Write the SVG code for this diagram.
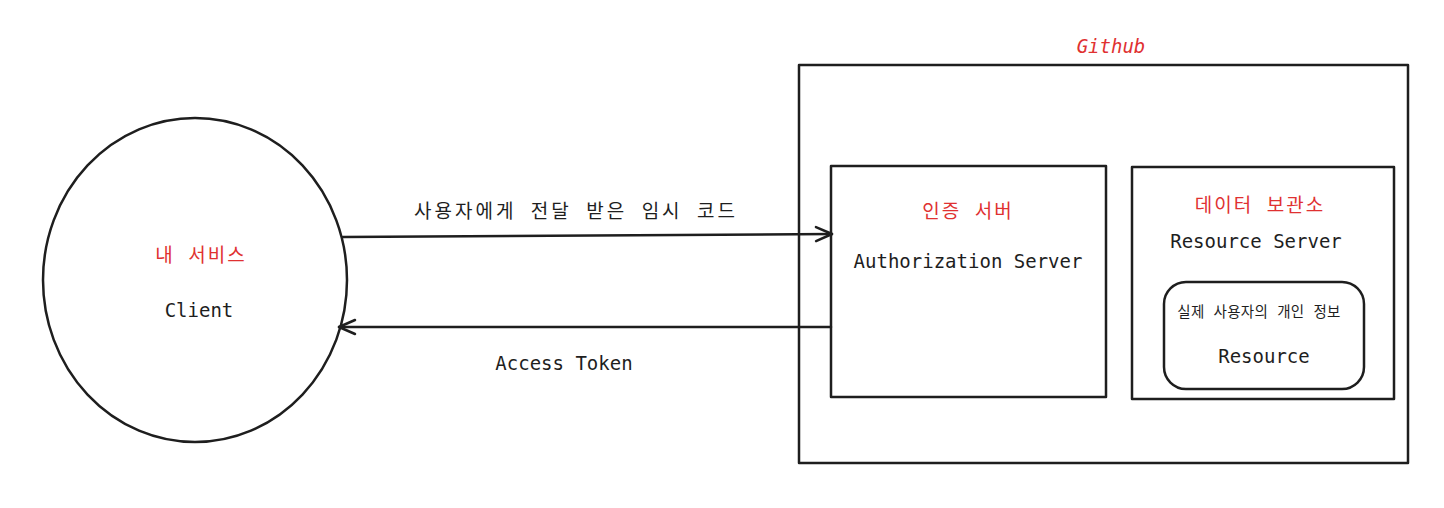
<svg xmlns="http://www.w3.org/2000/svg" width="1444" height="508" viewBox="0 0 1444 508">
<defs>
<style>
.s{fill:none;stroke:#1e1e1e;stroke-width:2.5;stroke-linecap:round;stroke-linejoin:round}
.t{font-family:"DejaVu Sans Mono","Liberation Mono","Noto Sans CJK KR",monospace;font-size:19px;fill:#1e1e1e;text-anchor:middle;dominant-baseline:central}
.k{letter-spacing:2px}
.r{fill:#e03131}
.sm{font-size:14.5px;letter-spacing:0.3px}
</style>
<marker id="ah" viewBox="0 0 20 20" refX="18" refY="10" markerWidth="20" markerHeight="20" markerUnits="userSpaceOnUse" orient="auto">
<path d="M2 3 L18 10 L2 17" fill="none" stroke="#1e1e1e" stroke-width="2.5" stroke-linecap="round" stroke-linejoin="round"/>
</marker>
</defs>
<rect width="1444" height="508" fill="#ffffff"/>
<g id="client">
<ellipse class="s" cx="195" cy="280" rx="152" ry="162"/>
<text class="t k r" x="201" y="255">내 서비스</text>
<text class="t" x="199" y="310">Client</text>
</g>
<g id="github">
<rect class="s" x="799" y="65" width="609" height="398"/>
<text class="t r" x="1111" y="46" font-style="italic">Github</text>
</g>
<g id="auth-server">
<rect class="s" x="831" y="166" width="275" height="231"/>
<text class="t k r" x="968" y="211">인증 서버</text>
<text class="t" x="968" y="261">Authorization Server</text>
</g>
<g id="resource-server">
<rect class="s" x="1132" y="167" width="262" height="232"/>
<text class="t k r" x="1260" y="205">데이터 보관소</text>
<text class="t" x="1256" y="241">Resource Server</text>
</g>
<g id="resource">
<rect class="s" x="1164" y="282" width="200" height="107" rx="22"/>
<text class="t sm" x="1259" y="312">실제 사용자의 개인 정보</text>
<text class="t" x="1264" y="356">Resource</text>
</g>
<g id="connectors">
<path class="s" d="M343 237 L832 234" marker-end="url(#ah)"/>
<text class="t" x="576" y="211" style="letter-spacing:3px">사용자에게 전달 받은 임시 코드</text>
<path class="s" d="M831 327 L339 327" marker-end="url(#ah)"/>
<text class="t" x="564" y="363">Access Token</text>
</g>
</svg>
